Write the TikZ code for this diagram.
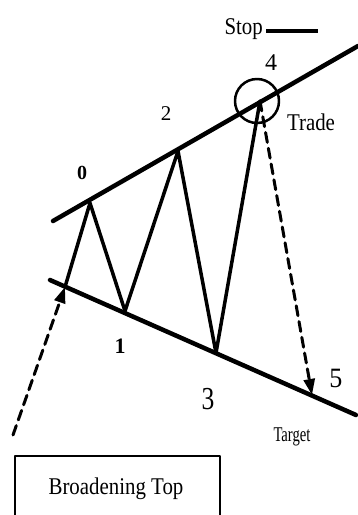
\documentclass[tikz,border=0pt]{standalone}
\usepackage{fontspec}
\setmainfont{Liberation Serif}
\usetikzlibrary{arrows.meta}
\begin{document}
\begin{tikzpicture}[x=1pt,y=-1pt,line cap=round,line join=round,
  lbl/.style={inner sep=0pt,font=\fontsize{24}{28}\selectfont,xscale=0.87},
  num/.style={inner sep=0pt,font=\fontsize{24}{28}\selectfont},
  chan/.style={line width=4.5pt},
  wave/.style={line width=3.5pt},
  move/.style={line width=3pt,dash pattern=on 10pt off 6pt,-{Triangle[length=16pt,width=11pt]}}]
\useasboundingbox (0,0) rectangle (358,515);
% channel lines
\coordinate (ua) at (53,221);
\coordinate (ub) at (358,46);
\coordinate (la) at (50,280);
\coordinate (lb) at (356,415);
\draw[chan] (ua) -- (ub);
\draw[chan] (la) -- (lb);
% swing points
\coordinate (s) at (65,287);
\coordinate (p0) at (90,203);
\coordinate (p1) at (125,311);
\coordinate (p2) at (178,151);
\coordinate (p3) at (216,353);
\coordinate (p4) at (260,101);
\draw[wave] (s) -- (p0) -- (p1) -- (p2) -- (p3) -- (p4);
% entry and exit moves
\coordinate (in) at (13,435);
\coordinate (tg) at (312,395);
\draw[move] (in) -- (s);
\draw[move] (p4) -- (tg);
% trade circle
\node[circle,draw,line width=2.5pt,minimum size=44pt,inner sep=0pt] (trd) at (257,101) {};
% stop
\node[lbl,anchor=east] (stop) at (263,29) {Stop};
\coordinate (sa) at (266,31);
\coordinate (se) at (318,31);
\draw[line width=4pt,line cap=butt] (sa) -- (se);
% labels
\node[num,font=\fontsize{20}{22}\bfseries] (n0) at (82,173) {0};
\node[num,font=\fontsize{22}{24}\bfseries] (n1) at (120,346) {1};
\node[num,font=\fontsize{21}{22}\selectfont] (n2) at (166,114) {2};
\node[num,font=\fontsize{32}{34}\selectfont,xscale=0.8] (n3) at (208,399) {3};
\node[num] (n4) at (271,63) {4};
\node[num,font=\fontsize{28}{30}\selectfont,xscale=0.93] (n5) at (336,378) {5};
\node[lbl] (trade) at (311,122) {Trade};
\node[lbl,font=\fontsize{21}{24}\selectfont,xscale=0.8] (target) at (292,437) {Target};
% title box
\draw[line width=1.5pt,line cap=butt] (15,520) -- (15,456) -- (220,456) -- (220,520);
\node[lbl] (title) at (116,489) {Broadening Top};
\end{tikzpicture}
\end{document}
